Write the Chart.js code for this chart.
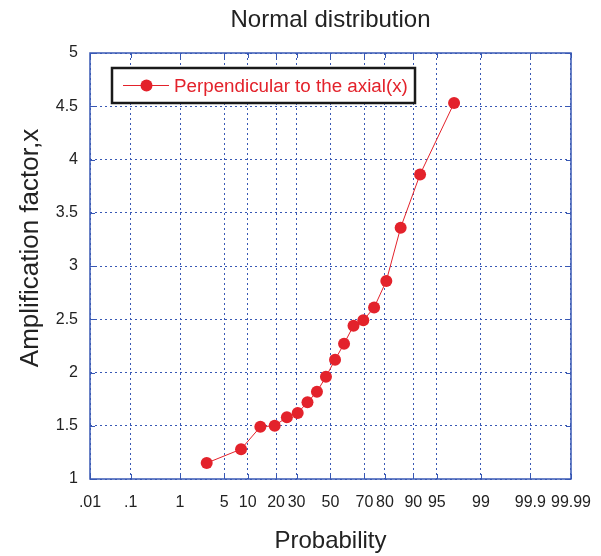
<!DOCTYPE html>
<html>
<head>
<meta charset="utf-8">
<script src="https://cdn.jsdelivr.net/npm/chart.js@4.4.0/dist/chart.umd.min.js"></script>
<style>
    html, body { margin: 0; padding: 0; background: #fff; }
</style>
</head>
<body>
<canvas id="myChart" width="601" height="556"></canvas>
<script>
// Probabilité (%) de chaque point
const probability = [2.78, 8.33, 13.9, 19.4, 25.0, 30.6, 36.1, 41.7, 47.2, 52.8, 58.3, 63.9, 69.4, 75.0, 80.6, 86.1, 91.7, 97.2];
const amplification = [1.15, 1.28, 1.49, 1.50, 1.58, 1.62, 1.72, 1.82, 1.96, 2.12, 2.27, 2.44, 2.49, 2.61, 2.86, 3.36, 3.86, 4.53];

const probTicks = [0.01, 0.1, 1, 5, 10, 20, 30, 50, 70, 80, 90, 95, 99, 99.9, 99.99];
const probTickLabels = ['.01', '.1', '1', '5', '10', '20', '30', '50', '70', '80', '90', '95', '99', '99.9', '99.99'];

const seriesLabel = 'Perpendicular to the axial(x)';
const titleText = 'Normal distribution';
const yTitleText = 'Amplification factor,x';

const red = '#e3222b';
const blue = '#3858b4';
const fontFamily = '"Liberation Sans", Arial, sans-serif';

// inverse de la loi normale (Acklam) -> échelle de probabilité normale
function probit(p) {
    const a = [-3.969683028665376e+01, 2.209460984245205e+02, -2.759285104469687e+02, 1.383577518672690e+02, -3.066479806614716e+01, 2.506628277459239e+00];
    const b = [-5.447609879822406e+01, 1.615858368580409e+02, -1.556989798598866e+02, 6.680131188771972e+01, -1.328068155288572e+01];
    const c = [-7.784894002430293e-03, -3.223964580411365e-01, -2.400758277161838e+00, -2.549732539343734e+00, 4.374664141464968e+00, 2.938163982698783e+00];
    const d = [7.784695709041462e-03, 3.224671290700398e-01, 2.445134137142996e+00, 3.754408661907416e+00];
    const pLow = 0.02425, pHigh = 1 - pLow;
    let q, r;
    if (p < pLow) {
        q = Math.sqrt(-2 * Math.log(p));
        return (((((c[0]*q+c[1])*q+c[2])*q+c[3])*q+c[4])*q+c[5]) / ((((d[0]*q+d[1])*q+d[2])*q+d[3])*q+1);
    } else if (p <= pHigh) {
        q = p - 0.5; r = q * q;
        return (((((a[0]*r+a[1])*r+a[2])*r+a[3])*r+a[4])*r+a[5])*q / (((((b[0]*r+b[1])*r+b[2])*r+b[3])*r+b[4])*r+1);
    }
    q = Math.sqrt(-2 * Math.log(1 - p));
    return -(((((c[0]*q+c[1])*q+c[2])*q+c[3])*q+c[4])*q+c[5]) / ((((d[0]*q+d[1])*q+d[2])*q+d[3])*q+1);
}

const points = probability.map((p, i) => ({ x: probit(p / 100), y: amplification[i] }));

// Titre, titre vertical, cadre, petites graduations internes et légende encadrée
const decorPlugin = {
    id: 'decor',
    beforeDatasetsDraw(chart) {
        const { ctx, chartArea: a, scales } = chart;
        ctx.save();
        ctx.strokeStyle = blue;
        ctx.lineWidth = 1.5;
        ctx.strokeRect(a.left, a.top, a.right - a.left, a.bottom - a.top);
        ctx.lineWidth = 1;
        const len = 5;
        scales.x.ticks.forEach(t => {
            const x = Math.round(scales.x.getPixelForValue(t.value)) + 0.5;
            ctx.beginPath();
            ctx.moveTo(x, a.bottom); ctx.lineTo(x, a.bottom - len);
            ctx.moveTo(x, a.top); ctx.lineTo(x, a.top + len);
            ctx.stroke();
        });
        scales.y.ticks.forEach(t => {
            const y = Math.round(scales.y.getPixelForValue(t.value)) + 0.5;
            ctx.beginPath();
            ctx.moveTo(a.left, y); ctx.lineTo(a.left + len, y);
            ctx.moveTo(a.right, y); ctx.lineTo(a.right - len, y);
            ctx.stroke();
        });
        ctx.restore();
    },
    afterDraw(chart) {
        const { ctx, chartArea: a } = chart;
        ctx.save();
        // titre
        ctx.fillStyle = '#222';
        ctx.font = '24px ' + fontFamily;
        ctx.textAlign = 'center';
        ctx.textBaseline = 'alphabetic';
        ctx.fillText(titleText, (a.left + a.right) / 2, 27);

        // titre de l'axe vertical (un peu au-dessus du centre, comme l'original)
        ctx.save();
        ctx.translate(38, 248);
        ctx.rotate(-Math.PI / 2);
        ctx.font = '26px ' + fontFamily;
        ctx.fillText(yTitleText, 0, 0);
        ctx.restore();

        // légende
        const bx = 112, by = 68, bw = 303, bh = 35;
        ctx.fillStyle = '#fff';
        ctx.fillRect(bx, by, bw, bh);
        ctx.strokeStyle = '#1a1a1a';
        ctx.lineWidth = 2.5;
        ctx.strokeRect(bx, by, bw, bh);
        const ly = by + bh / 2;
        ctx.strokeStyle = red;
        ctx.lineWidth = 1;
        ctx.beginPath();
        ctx.moveTo(123, ly); ctx.lineTo(169, ly);
        ctx.stroke();
        ctx.fillStyle = red;
        ctx.beginPath();
        ctx.arc(146.5, ly, 6, 0, Math.PI * 2);
        ctx.fill();
        ctx.font = '18.8px ' + fontFamily;
        ctx.textAlign = 'left';
        ctx.textBaseline = 'middle';
        ctx.fillText(seriesLabel, 174, ly + 1);
        ctx.restore();
    }
};

const config = {
    type: 'line',
    data: {
        datasets: [{
            label: seriesLabel,
            data: points,
            borderColor: red,
            backgroundColor: red,
            borderWidth: 1,
            pointRadius: 6,
            pointBorderWidth: 0,
            pointBackgroundColor: red,
            fill: false,
            tension: 0
        }]
    },
    options: {
        responsive: false,
        animation: false,
        devicePixelRatio: 1,
        layout: {
            padding: { top: 53, right: 30, left: 0, bottom: 0 }
        },
        scales: {
            x: {
                type: 'linear',
                min: probit(0.0001),
                max: probit(0.9999),
                afterBuildTicks: (scale) => {
                    scale.ticks = probTicks.map(p => ({ value: probit(p / 100) }));
                },
                afterFit: (scale) => {
                    scale.height = 77;
                    scale.paddingLeft = 0;
                    scale.paddingRight = 0;
                },
                grid: {
                    color: blue,
                    lineWidth: 1,
                    drawTicks: false
                },
                border: { display: false, dash: [2, 3] },
                ticks: {
                    autoSkip: false,
                    maxRotation: 0,
                    padding: 14,
                    color: '#222',
                    font: { size: 16, family: fontFamily },
                    callback: (value, index) => probTickLabels[index]
                },
                title: {
                    display: true,
                    text: 'Probability',
                    color: '#222',
                    font: { size: 24, family: fontFamily },
                    padding: { top: 0, bottom: 0 }
                }
            },
            y: {
                min: 1,
                max: 5,
                afterFit: (scale) => {
                    scale.width = 90;
                    scale.paddingTop = 0;
                    scale.paddingBottom = 0;
                },
                ticks: {
                    stepSize: 0.5,
                    padding: 12,
                    color: '#222',
                    font: { size: 16, family: fontFamily },
                    callback: (value) => String(value)
                },
                grid: {
                    color: blue,
                    lineWidth: 1,
                    drawTicks: false
                },
                border: { display: false, dash: [2, 3] },
                title: { display: false }
            }
        },
        plugins: {
            legend: { display: false },
            title: { display: false },
            tooltip: { enabled: false }
        }
    },
    plugins: [decorPlugin]
};

let myChart = new Chart(document.getElementById('myChart'), config);
</script>
</body>
</html>
